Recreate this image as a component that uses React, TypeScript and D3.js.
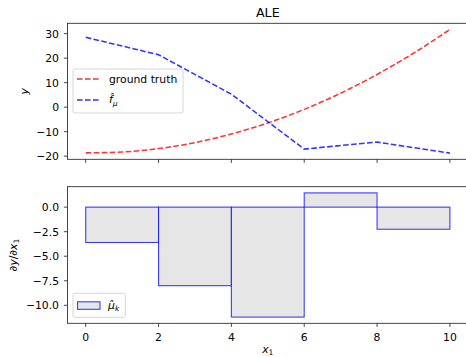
import React from "react";
import * as d3 from "d3";

// Grid of x₁ values and the two curves of the top panel
const xGrid = [0, 1, 2, 3, 4, 5, 6, 7, 8, 9, 10];
const groundTruth = [-18.65, -18.3, -16.9, -14.45, -10.95, -6.45, -0.9, 5.7, 13.35, 22.0, 31.7];
const binEdges = [0, 2, 4, 6, 8, 10];
const fMu = [28.5, 21.4, 5.3, -17.1, -14.25, -18.75];
// Per-bin ALE derivative estimates (bottom panel)
const muK = [-3.6, -8.0, -11.2, 1.45, -2.25];
const xTicks = [0, 2, 4, 6, 8, 10];
const yTicksTop = [-20, -10, 0, 10, 20, 30];
const yTicksBottom = [-10, -7.5, -5, -2.5, 0];

const W = 466;
const H = 357;
const FONT = "'DejaVu Sans', sans-serif";
const FS = 10.8;

const pad = (lo: number, hi: number): [number, number] => {
  const m = (hi - lo) * 0.05;
  return [lo - m, hi + m];
};

export default function App() {
  const left = 67.5;
  const right = 468.1;
  const top1 = 23.3, bot1 = 159.3;
  const top2 = 186.7, bot2 = 323.3;

  const x = d3.scaleLinear().domain(pad(0, 10)).range([left, right]);
  const allTop = [...groundTruth, ...fMu];
  const y1 = d3.scaleLinear().domain(pad(d3.min(allTop)!, d3.max(allTop)!)).range([bot1, top1]);
  const y2 = d3
    .scaleLinear()
    .domain(pad(Math.min(0, d3.min(muK)!), Math.max(0, d3.max(muK)!)))
    .range([bot2, top2]);

  const line = d3
    .line<[number, number]>()
    .x((d) => x(d[0]))
    .y((d) => y1(d[1]));
  const gtPath = line.curve(d3.curveMonotoneX)(xGrid.map((v, i) => [v, groundTruth[i]]))!;
  const fPath = line.curve(d3.curveLinear)(binEdges.map((v, i) => [v, fMu[i]]))!;

  const fmt = (v: number, digits: number) => v.toFixed(digits).replace("-", "\u2212");
  const axisColor = "#262626";
  const dash = "5.6 2.4";
  const lw = 1.55;
  const tick = 3.6;

  const frame = (t: number, b: number) => (
    <rect x={left} y={t} width={right - left} height={b - t} fill="none" stroke={axisColor} strokeWidth={0.85} />
  );

  return (
    <svg
      width={W}
      height={H}
      style={{ position: "absolute", left: 0, top: 0, background: "#fff" }}
      fontFamily={FONT}
    >
      <rect width={W} height={H} fill="#fff" />
      {/* Top panel */}
      <text x={(left + right) / 2} y={17} fontSize={12.6} textAnchor="middle" fill="#000">
        ALE
      </text>
      <path d={gtPath} fill="none" stroke="red" strokeOpacity={0.8} strokeWidth={lw} strokeDasharray={dash} />
      <path d={fPath} fill="none" stroke="blue" strokeOpacity={0.8} strokeWidth={lw} strokeDasharray={dash} />
      {frame(top1, bot1)}
      {yTicksTop.map((t) => (
        <g key={"yt" + t}>
          <line x1={left - tick} x2={left} y1={y1(t)} y2={y1(t)} stroke={axisColor} strokeWidth={0.85} />
          <text x={left - 8.5} y={y1(t) + 3.9} fontSize={FS} textAnchor="end" fill="#000">
            {fmt(t, 0)}
          </text>
        </g>
      ))}
      {xTicks.map((t) => (
        <line key={"xt1" + t} x1={x(t)} x2={x(t)} y1={bot1} y2={bot1 + tick} stroke={axisColor} strokeWidth={0.85} />
      ))}
      <text
        transform={`translate(27.5,${(top1 + bot1) / 2}) rotate(-90)`}
        fontSize={FS}
        textAnchor="middle"
        fontStyle="italic"
        fill="#000"
      >
        y
      </text>
      {/* Top legend */}
      <rect x={73} y={69} width={110} height={44} rx={2} fill="#fff" fillOpacity={0.8} stroke="#ccc" strokeWidth={0.8} />
      <line x1={77} x2={100} y1={79} y2={79} stroke="red" strokeOpacity={0.8} strokeWidth={lw} strokeDasharray={dash} />
      <text x={109} y={82.8} fontSize={FS} fill="#000">
        ground truth
      </text>
      <line x1={77} x2={100} y1={100} y2={100} stroke="blue" strokeOpacity={0.8} strokeWidth={lw} strokeDasharray={dash} />
      <text x={109} y={103} fontSize={FS} fill="#000">
        <tspan fontStyle="italic">f̂</tspan>
        <tspan fontStyle="italic" fontSize={FS * 0.7} dy={2.5}>
          μ
        </tspan>
      </text>

      {/* Bottom panel */}
      {muK.map((m, i) => {
        const x0 = x(binEdges[i]);
        const x1 = x(binEdges[i + 1]);
        const ya = y2(Math.max(0, m));
        const yb = y2(Math.min(0, m));
        return (
          <rect
            key={"bar" + i}
            x={x0}
            y={ya}
            width={x1 - x0}
            height={yb - ya}
            fill="#e6e6e6"
            stroke="blue"
            strokeOpacity={0.75}
            strokeWidth={1.1}
          />
        );
      })}
      {frame(top2, bot2)}
      {yTicksBottom.map((t) => (
        <g key={"yb" + t}>
          <line x1={left - tick} x2={left} y1={y2(t)} y2={y2(t)} stroke={axisColor} strokeWidth={0.85} />
          <text x={left - 8.5} y={y2(t) + 3.9} fontSize={FS} textAnchor="end" fill="#000">
            {fmt(t, 1)}
          </text>
        </g>
      ))}
      {xTicks.map((t) => (
        <g key={"xt2" + t}>
          <line x1={x(t)} x2={x(t)} y1={bot2} y2={bot2 + tick} stroke={axisColor} strokeWidth={0.85} />
          <text x={x(t)} y={340.5} fontSize={FS} textAnchor="middle" fill="#000">
            {t}
          </text>
        </g>
      ))}
      <text x={(left + right) / 2} y={353} fontSize={FS} textAnchor="middle" fill="#000">
        <tspan fontStyle="italic">x</tspan>
        <tspan fontSize={FS * 0.7} dy={2}>
          1
        </tspan>
      </text>
      <text
        transform={`translate(17,${(top2 + bot2) / 2}) rotate(-90)`}
        fontSize={FS}
        textAnchor="middle"
        fill="#000"
      >
        <tspan>∂</tspan>
        <tspan fontStyle="italic">y</tspan>
        <tspan>/∂</tspan>
        <tspan fontStyle="italic">x</tspan>
        <tspan fontSize={FS * 0.7} dy={2}>
          1
        </tspan>
      </text>
      {/* Bottom legend */}
      <rect x={73} y={293.3} width={52.3} height={24} rx={2} fill="#fff" fillOpacity={0.8} stroke="#ccc" strokeWidth={0.8} />
      <rect x={77.5} y={301.8} width={22.5} height={7.5} fill="#e6e6e6" stroke="blue" strokeOpacity={0.75} strokeWidth={1.1} />
      <text x={108} y={308.8} fontSize={FS} fill="#000">
        <tspan fontStyle="italic">μ̂</tspan>
        <tspan fontStyle="italic" fontSize={FS * 0.7} dy={2.5}>
          k
        </tspan>
      </text>
    </svg>
  );
}
